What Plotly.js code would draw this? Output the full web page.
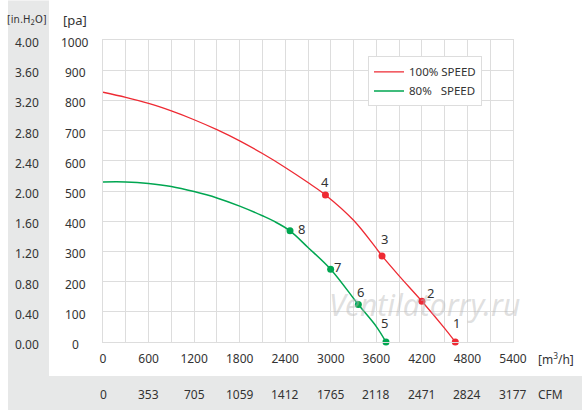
<!DOCTYPE html>
<html>
<head>
<meta charset="utf-8">
<script src="https://cdn.plot.ly/plotly-3.0.1.min.js"></script>
<style>
html,body{margin:0;padding:0;background:#fff;}
#chart{width:582px;height:410px;}
</style>
</head>
<body>
<div id="chart"></div>
<script>
// ---- data ----
const redCurveX = [0, 300, 600, 900, 1200, 1500, 1800, 2100, 2400, 2700, 2930, 3300, 3600, 3675, 3900, 4200, 4500, 4640];
const redCurveY = [827, 810, 790, 765, 736, 703, 666, 624, 578, 528, 487, 403, 310, 285, 219, 135, 45, 0];
const greenCurveX = [0, 300, 600, 900, 1200, 1500, 1800, 2100, 2250, 2463, 2700, 2998, 3363, 3600, 3727];
const greenCurveY = [530, 530, 525, 515, 498, 477, 450, 418, 400, 368, 313, 241, 124, 51, 0];
const redPointX = [4640, 4200, 3675, 2930];
const redPointY = [0, 135, 285, 487];
const redPointLabels = ['1', '2', '3', '4'];
const greenPointX = [3727, 3363, 2998, 2463];
const greenPointY = [0, 124, 241, 368];
const greenPointLabels = ['5', '6', '7', '8'];
const seriesNames = ['100% SPEED', '80%\u00a0\u00a0 SPEED'];
const paTicks = [0, 100, 200, 300, 400, 500, 600, 700, 800, 900, 1000];
const inH2OLabels = ['0.00', '0.40', '0.80', '1.20', '1.60', '2.00', '2.40', '2.80', '3.20', '3.60', '4.00'];
const m3hTicks = [0, 600, 1200, 1800, 2400, 3000, 3600, 4200, 4800, 5400];
const cfmLabels = ['0', '353', '705', '1059', '1412', '1765', '2118', '2471', '2824', '3177'];

// ---- layout constants (pixels) ----
const W = 582, H = 410;
const L = 103, R = 513, T = 39.5, B = 342;
const pw = R - L, ph = B - T;
const px = v => (v - L) / pw;      // pixel x -> paper x
const py = v => (B - v) / ph;      // pixel y -> paper y

const RED = '#ee2a33', GREEN = '#00a651';
const FONT = 'Noto Sans, Open Sans, sans-serif';
const TXT = '#333333';

// label offsets (pixels) for point numbers
const redOff = [[1, -19], [9, -8], [2, -17], [0, -13]];
const greenOff = [[-1, -19], [2, -13], [7, -2], [11, -2]];

const traces = [
  {x: redCurveX, y: redCurveY, type: 'scatter', mode: 'lines', name: seriesNames[0],
   line: {color: RED, width: 1.3, shape: 'spline', smoothing: 1}},
  {x: greenCurveX, y: greenCurveY, type: 'scatter', mode: 'lines', name: seriesNames[1],
   line: {color: GREEN, width: 1.5, shape: 'spline', smoothing: 1}},
  {x: redPointX, y: redPointY, type: 'scatter', mode: 'markers', showlegend: false,
   marker: {color: RED, size: 7}, cliponaxis: false},
  {x: greenPointX, y: greenPointY, type: 'scatter', mode: 'markers', showlegend: false,
   marker: {color: GREEN, size: 7}, cliponaxis: false}
];

const ann = [];
ann.push({x: px(424), y: py(304), xref: 'paper', yref: 'paper', text: '<i>Ventilatorry.ru</i>', showarrow: false,
  xanchor: 'center', yanchor: 'middle', font: {family: FONT, size: 30, color: 'rgba(185,185,185,0.45)'}});
redPointX.forEach((x, i) => ann.push({x: x, y: redPointY[i], xref: 'x', yref: 'y', text: redPointLabels[i],
  showarrow: false, xanchor: 'center', yanchor: 'middle', xshift: redOff[i][0], yshift: -redOff[i][1],
  font: {family: FONT, size: 13, color: TXT}}));
greenPointX.forEach((x, i) => ann.push({x: x, y: greenPointY[i], xref: 'x', yref: 'y', text: greenPointLabels[i],
  showarrow: false, xanchor: 'center', yanchor: 'middle', xshift: greenOff[i][0], yshift: -greenOff[i][1],
  font: {family: FONT, size: 13, color: TXT}}));
paTicks.forEach((v, i) => {
  ann.push({x: px(75), y: v, xref: 'paper', yref: 'y', text: String(v), showarrow: false,
    xanchor: 'center', yanchor: 'middle', yshift: -2.5, font: {family: FONT, size: 12, color: TXT}});
  ann.push({x: px(27), y: v, xref: 'paper', yref: 'y', text: inH2OLabels[i], showarrow: false,
    xanchor: 'center', yanchor: 'middle', yshift: -2.5, font: {family: FONT, size: 12, color: TXT}});
});
m3hTicks.forEach((v, i) => {
  ann.push({x: v, y: py(395), xref: 'x', yref: 'paper', text: cfmLabels[i], showarrow: false,
    xanchor: 'center', yanchor: 'middle', font: {family: FONT, size: 12, color: TXT}});
});
ann.push({x: px(536), y: py(359), xref: 'paper', yref: 'paper', text: '[m<sup>3</sup>/h]', showarrow: false,
  xanchor: 'left', yanchor: 'middle', font: {family: FONT, size: 12, color: TXT}});
ann.push({x: px(536), y: py(395), xref: 'paper', yref: 'paper', text: 'CFM', showarrow: false,
  xanchor: 'left', yanchor: 'middle', font: {family: FONT, size: 12, color: TXT}});
ann.push({x: px(27), y: py(19), xref: 'paper', yref: 'paper', text: '[in.H<sub>2</sub>O]', showarrow: false,
  xanchor: 'center', yanchor: 'middle', font: {family: 'Liberation Sans Narrow, DejaVu Sans Condensed, Noto Sans', size: 11, color: TXT}});
ann.push({x: px(75), y: py(19), xref: 'paper', yref: 'paper', text: '[pa]', showarrow: false,
  xanchor: 'center', yanchor: 'middle', font: {family: FONT, size: 13, color: TXT}});

const shapes = [
  {type: 'rect', xref: 'paper', yref: 'paper', x0: px(8), x1: px(49), y0: py(H), y1: py(0),
   fillcolor: '#e7e8e8', line: {width: 0}, layer: 'below'},
  {type: 'rect', xref: 'paper', yref: 'paper', x0: px(8), x1: px(W), y0: py(H), y1: py(376),
   fillcolor: '#e7e8e8', line: {width: 0}, layer: 'below'}
];

const layout = {
  width: W, height: H,
  margin: {l: L, r: W - R, t: T, b: H - B, pad: 0},
  paper_bgcolor: '#ffffff', plot_bgcolor: '#ffffff',
  font: {family: FONT, size: 12, color: TXT},
  showlegend: true,
  legend: {x: px(368), y: py(56), xanchor: 'left', yanchor: 'top', bgcolor: '#ffffff',
    bordercolor: '#dddddd', borderwidth: 1, font: {family: FONT, size: 11.5, color: TXT},
    tracegroupgap: 0},
  xaxis: {range: [0, 5400], tickvals: m3hTicks, ticktext: m3hTicks.map(String), showgrid: true,
    gridcolor: '#dddddd', gridwidth: 1, zeroline: false, showline: true, linecolor: '#dddddd',
    mirror: true, ticks: '', ticklabelstandoff: 6, fixedrange: true,
    minor: {dtick: 300, tick0: 0, showgrid: true, gridcolor: '#dddddd', gridwidth: 1},
    tickfont: {family: FONT, size: 12, color: TXT}},
  yaxis: {range: [0, 1000], dtick: 100, tick0: 0, showgrid: true, gridcolor: '#dddddd', gridwidth: 1,
    zeroline: false, showline: true, linecolor: '#dddddd', mirror: true, showticklabels: false,
    ticks: '', fixedrange: true},
  annotations: ann,
  shapes: shapes
};

Plotly.newPlot('chart', traces, layout, {displayModeBar: false, staticPlot: true});
</script>
</body>
</html>
